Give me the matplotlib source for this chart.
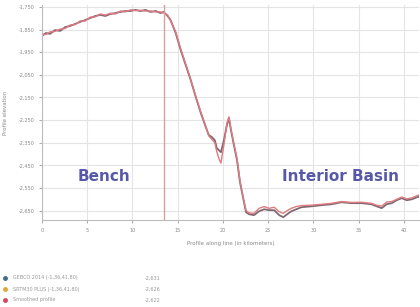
import matplotlib.pyplot as plt
from matplotlib.lines import Line2D

# profile distance (km) and elevation (m)
dist_a = [0, 0.44, 0.89, 1.44, 2.0, 2.56, 3.11, 3.67, 4.22, 4.78, 5.33, 5.89, 6.44, 7.0,
          7.56, 8.11, 8.67, 9.22, 9.78, 10.33, 10.89, 11.44, 12.0, 12.56, 13.11, 13.44,
          13.89, 14.22, 14.78, 15.33, 15.89, 16.44, 17.0, 17.56, 18.11, 18.44, 18.78,
          19.11, 19.33, 19.56, 19.78, 20.11, 20.44, 20.67, 20.89, 21.22, 21.56, 21.89,
          22.22, 22.56, 22.89, 23.44, 24.0, 24.56, 25.11, 25.67, 26.22, 26.67, 27.11,
          27.56, 28.11, 28.67, 29.78, 30.89, 32.0, 33.11, 34.22, 35.33, 36.44, 37.0,
          37.56, 38.11, 38.67, 39.22, 39.78, 40.33, 40.89, 41.44, 42.0]
elev_a = [-1878, -1865, -1869, -1852, -1856, -1839, -1834, -1825, -1816, -1808, -1799,
          -1790, -1785, -1790, -1781, -1777, -1772, -1768, -1768, -1763, -1768, -1763,
          -1772, -1768, -1777, -1772, -1790, -1808, -1865, -1940, -2007, -2073, -2148,
          -2219, -2281, -2316, -2325, -2339, -2374, -2383, -2392, -2339, -2272, -2241,
          -2294, -2361, -2427, -2524, -2591, -2657, -2666, -2670, -2653, -2644, -2648,
          -2648, -2670, -2679, -2666, -2653, -2644, -2635, -2631, -2626, -2622, -2613,
          -2617, -2617, -2622, -2631, -2639, -2622, -2617, -2604, -2595, -2604, -2600,
          -2591, -2586]

dist_b = dist_a
elev_b = [-1870, -1872, -1860, -1858, -1848, -1845, -1830, -1828, -1812, -1812, -1795,
          -1794, -1781, -1786, -1778, -1781, -1768, -1772, -1763, -1766, -1765, -1768,
          -1768, -1772, -1772, -1776, -1786, -1812, -1860, -1935, -2002, -2070, -2145,
          -2215, -2278, -2320, -2335, -2350, -2390, -2420, -2440, -2360, -2265, -2236,
          -2290, -2355, -2420, -2520, -2588, -2650, -2660, -2662, -2640, -2632, -2640,
          -2635, -2655, -2662, -2650, -2640, -2632, -2628, -2626, -2622, -2618, -2610,
          -2614, -2613, -2618, -2626, -2630, -2612, -2610, -2600, -2590, -2598, -2594,
          -2584, -2578]

ytick_vals = [-1750, -1850, -1950, -2050, -2150, -2250, -2350, -2450, -2550, -2650]
xtick_vals = [0, 5, 10, 15, 20, 25, 30, 35, 40]
boundary_km = 13.44

legend_names = ["GEBCO 2014 (-1,36,41,80)", "SRTM30 PLUS (-1,36,41,80)", "Smoothed profile"]
legend_vals = ["-2,631", "-2,626", "-2,622"]
legend_cols = ["#3d6f8a", "#e3a43a", "#d6455a"]

fig = plt.figure(figsize=(4.2, 3.07), dpi=100)
ax = fig.add_axes([0.1, 0.283, 0.898, 0.701])

ax.plot(dist_a, elev_a, color="#806872", lw=1.3)
ax.plot(dist_b, elev_b, color="#e07a80", lw=1.0)
ax.axvline(boundary_km, color="#d9a0a0", lw=1.0)

ax.set_xlim(0, 41.7)
ax.set_ylim(-2692, -1741)
ax.set_xticks(xtick_vals)
ax.set_yticks(ytick_vals)
ax.set_yticklabels([f"{v:,}" for v in ytick_vals])
ax.tick_params(labelsize=3.5, colors="#888888", length=2, width=0.5)
ax.grid(True, color="#e4e4e4", lw=0.8)
for s in ["top", "right"]:
    ax.spines[s].set_visible(False)
for s in ["left", "bottom"]:
    ax.spines[s].set_color("#bbbbbb")
    ax.spines[s].set_linewidth(0.8)

ax.set_xlabel("Profile along line (in kilometers)", fontsize=4, color="#888888", labelpad=6)
ax.set_ylabel("Profile elevation", fontsize=4, color="#888888", labelpad=8)

ax.text(6.8, -2500, "Bench", fontsize=11, fontweight="bold", color="#5858a8",
        ha="center", va="center")
ax.text(33, -2500, "Interior Basin", fontsize=11, fontweight="bold", color="#5858a8",
        ha="center", va="center")

for i, (name, val, col) in enumerate(zip(legend_names, legend_vals, legend_cols)):
    yy = 1 - (278 + i * 11) / 307
    fig.add_artist(Line2D([0.012], [yy], marker="o", ms=2.5, color=col, transform=fig.transFigure))
    fig.text(0.03, yy, name, fontsize=3.5, color="#999999", va="center")
    fig.text(0.345, yy, val, fontsize=3.5, color="#999999", va="center")

fig.savefig("out.png", dpi=100)
